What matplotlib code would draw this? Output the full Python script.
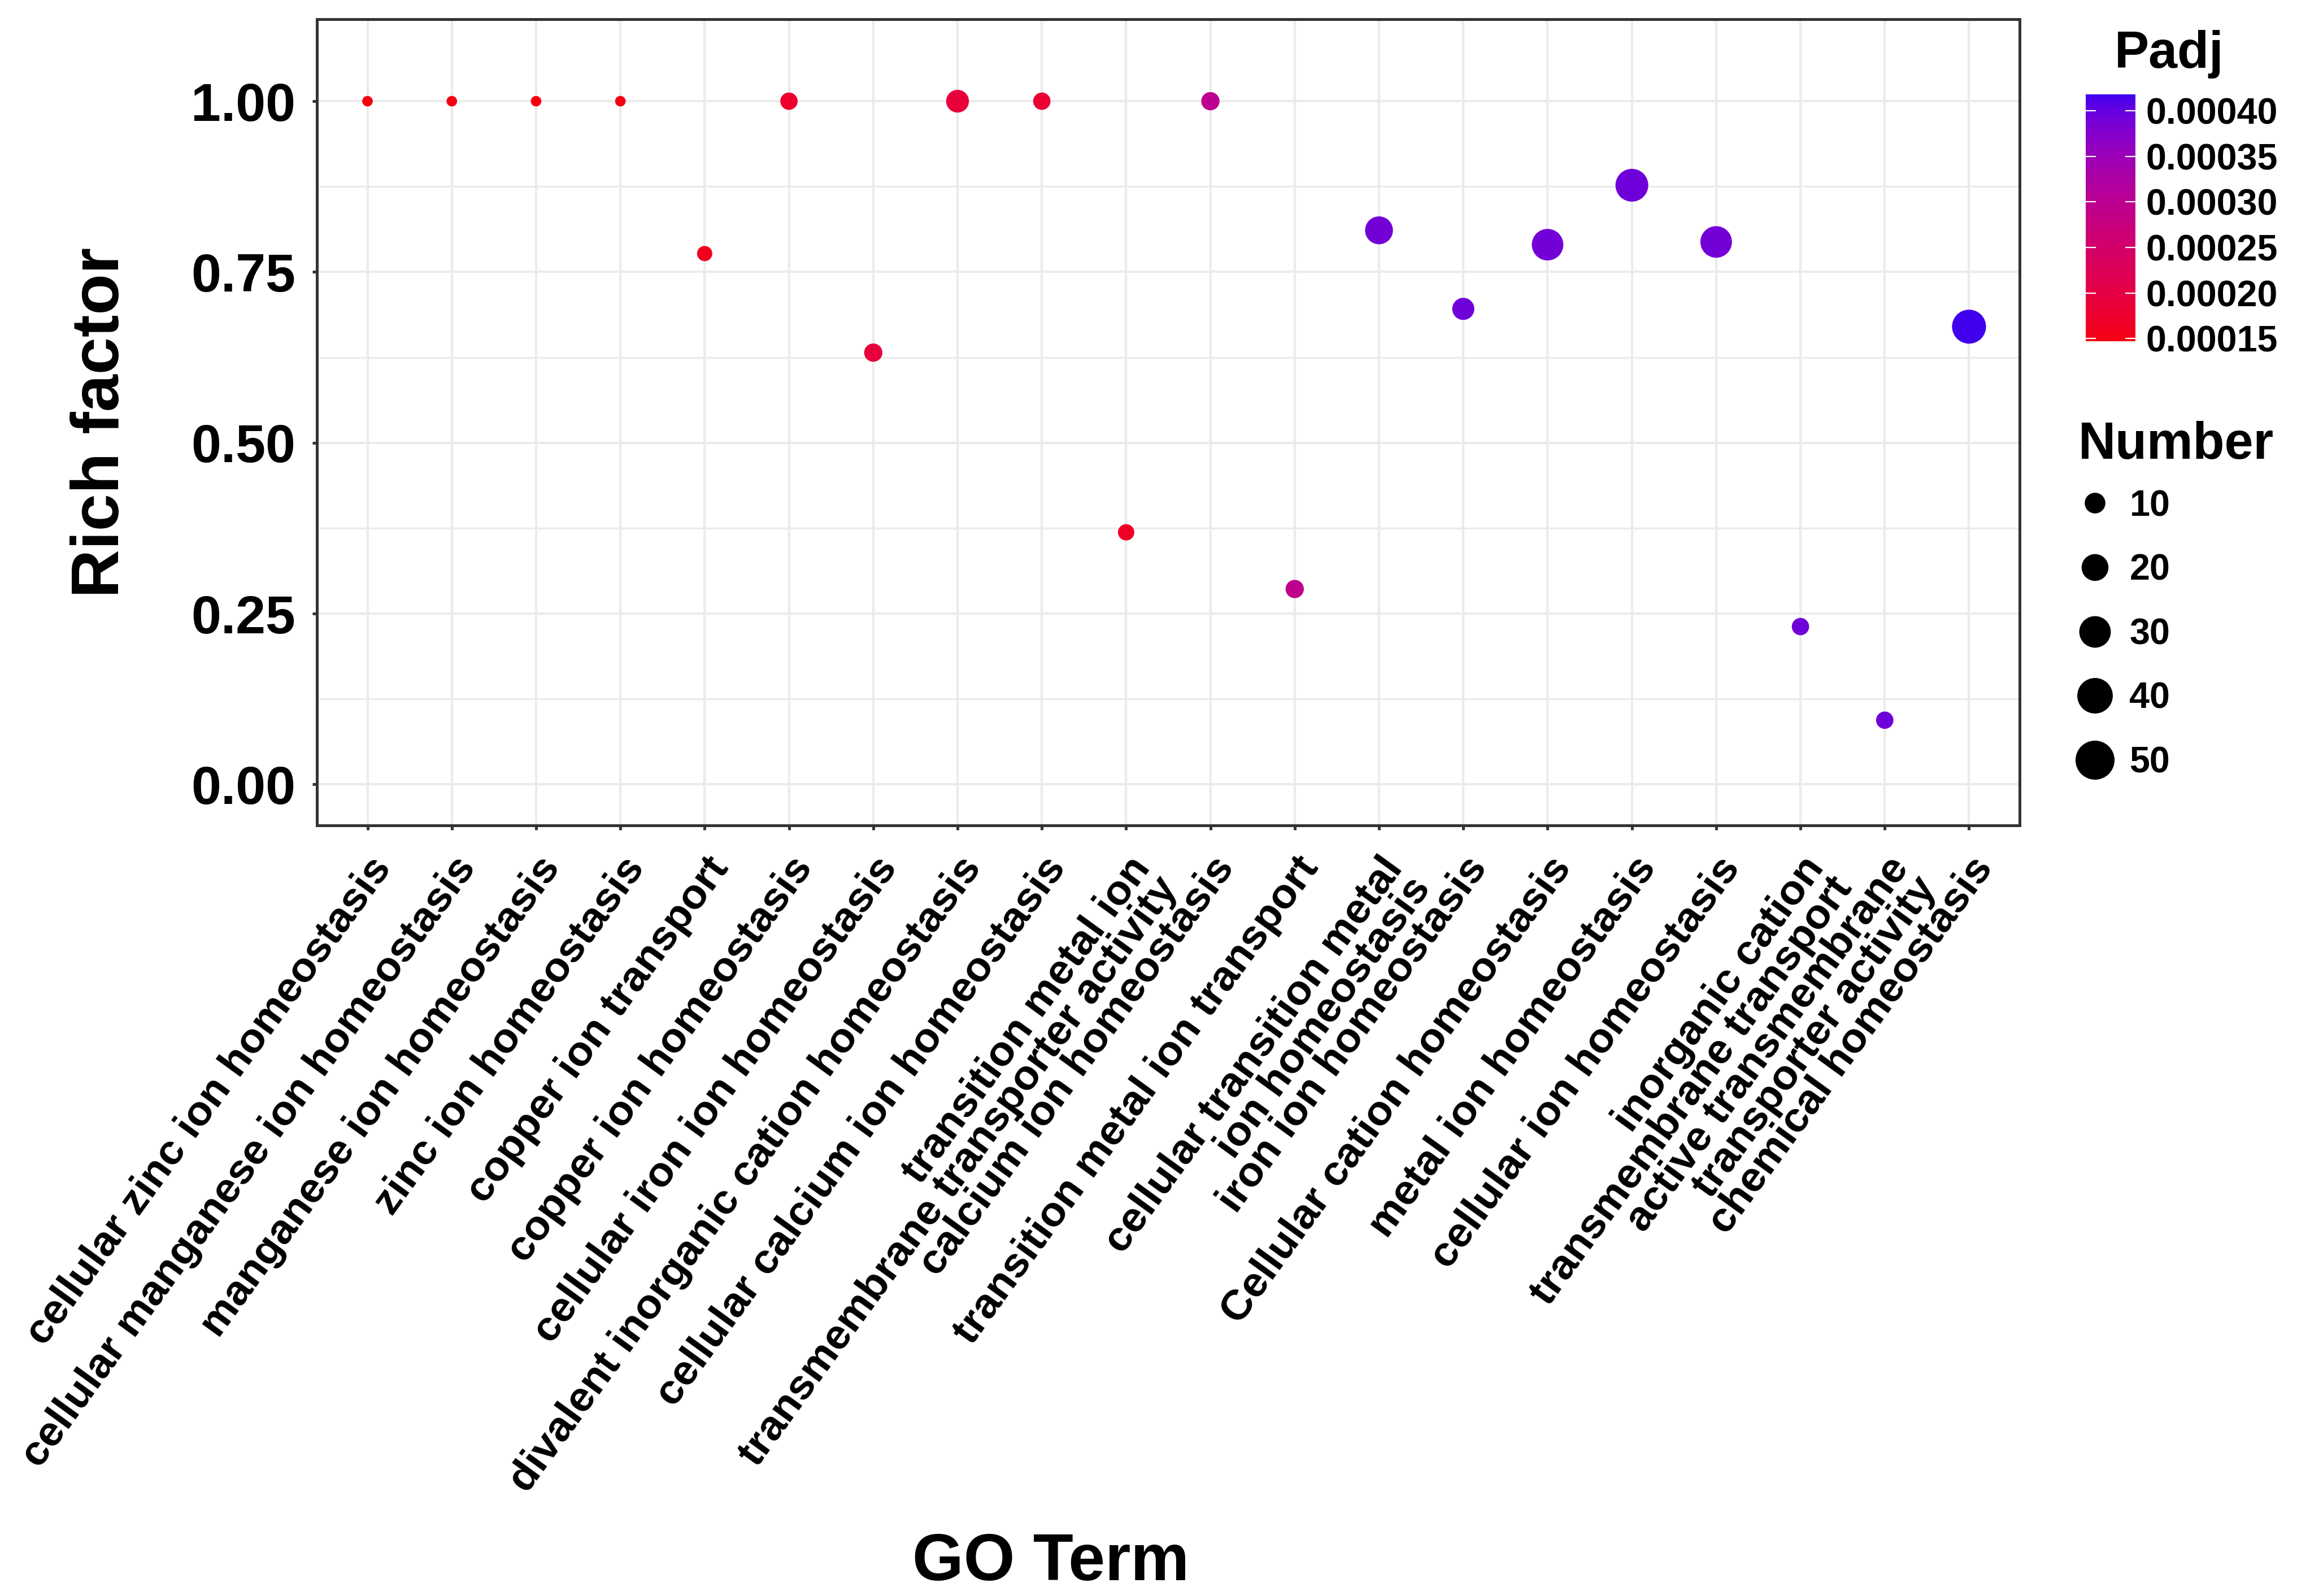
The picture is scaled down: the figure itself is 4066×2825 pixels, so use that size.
import numpy as np
import matplotlib
matplotlib.use("Agg")
import matplotlib.pyplot as plt
from matplotlib.colors import ListedColormap, Normalize
from matplotlib.cm import ScalarMappable
from matplotlib.lines import Line2D
from matplotlib.ticker import MultipleLocator

# ---------------- data ----------------
go_terms = [
    "cellular zinc ion homeostasis",
    "cellular manganese ion homeostasis",
    "manganese ion homeostasis",
    "zinc ion homeostasis",
    "copper ion transport",
    "copper ion homeostasis",
    "cellular iron ion homeostasis",
    "divalent inorganic cation homeostasis",
    "cellular calcium ion homeostasis",
    "transition metal ion\ntransmembrane transporter activity",
    "calcium ion homeostasis",
    "transition metal ion transport",
    "cellular transition metal\nion homeostasis",
    "iron ion homeostasis",
    "Cellular cation homeostasis",
    "metal ion homeostasis",
    "cellular ion homeostasis",
    "inorganic cation\ntransmembrane transport",
    "active transmembrane\ntransporter activity",
    "chemical homeostasis",
]
rich_factor = [1.00, 1.00, 1.00, 1.00, 0.777, 1.00, 0.632, 1.00, 1.00, 0.369,
               1.00, 0.286, 0.811, 0.696, 0.790, 0.877, 0.794, 0.231, 0.094, 0.670]
number = [1, 1, 1, 1, 4, 6, 7, 13, 6, 5,
          7, 7, 22, 12, 30, 33, 30, 6, 6, 36]
padj = [0.000147, 0.000148, 0.000148, 0.000148, 0.000160, 0.000175, 0.000190,
        0.000190, 0.000180, 0.000168, 0.000298, 0.000295, 0.000390, 0.000392,
        0.000390, 0.000392, 0.000390, 0.000392, 0.000392, 0.000418]

y_ticks = [0.00, 0.25, 0.50, 0.75, 1.00]
size_breaks = [10, 20, 30, 40, 50]
padj_breaks = [0.00015, 0.00020, 0.00025, 0.00030, 0.00035, 0.00040]

# ---------------- helpers ----------------
DPI = 300
PX = 72.0 / DPI  # points per pixel


def hex_rgb(h):
    h = h.lstrip("#")
    return np.array([int(h[i:i + 2], 16) / 255.0 for i in (0, 2, 4)])


def rgb_to_lab(rgb):
    c = np.where(rgb <= 0.04045, rgb / 12.92, ((rgb + 0.055) / 1.055) ** 2.4)
    M = np.array([[0.4124, 0.3576, 0.1805], [0.2126, 0.7152, 0.0722], [0.0193, 0.1192, 0.9505]])
    xyz = M @ c / np.array([0.95047, 1.0, 1.08883])
    d = 6 / 29
    f = np.where(xyz > d ** 3, np.cbrt(xyz), xyz / (3 * d * d) + 4 / 29)
    return np.array([116 * f[1] - 16, 500 * (f[0] - f[1]), 200 * (f[1] - f[2])])


def lab_to_rgb(lab):
    L, a, b = lab
    fy = (L + 16) / 116
    fx = fy + a / 500
    fz = fy - b / 200
    d = 6 / 29
    f = np.array([fx, fy, fz])
    xyz = np.where(f > d, f ** 3, 3 * d * d * (f - 4 / 29)) * np.array([0.95047, 1.0, 1.08883])
    Minv = np.array([[3.2406, -1.5372, -0.4986], [-0.9689, 1.8758, 0.0415], [0.0557, -0.2040, 1.0570]])
    c = np.clip(Minv @ xyz, 0, 1)
    s = np.where(c <= 0.0031308, 12.92 * c, 1.055 * c ** (1 / 2.4) - 0.055)
    return np.clip(s, 0, 1)


def lab_gradient(low, high, n=256):
    l0, l1 = rgb_to_lab(hex_rgb(low)), rgb_to_lab(hex_rgb(high))
    return ListedColormap([lab_to_rgb(l0 + (l1 - l0) * t) for t in np.linspace(0, 1, n)])


def size_px(n):
    # marker diameter in pixels for a gene count
    return 10.34 + 8.31 * np.sqrt(np.asarray(n, dtype=float))


cmap = lab_gradient("#F5000F", "#4000EE")
norm = Normalize(vmin=min(padj), vmax=max(padj))

plt.rcParams["font.family"] = ["Liberation Sans", "DejaVu Sans"]
plt.rcParams["font.weight"] = "bold"

W, H = 4066, 2825
fig = plt.figure(figsize=(W / DPI, H / DPI), dpi=DPI)
L, R, T, B = 561, 3575, 34, 1461
ax = fig.add_axes([L / W, 1 - B / H, (R - L) / W, (B - T) / H])

x = np.arange(1, len(go_terms) + 1)
ax.scatter(x, rich_factor, s=(size_px(number) * PX) ** 2, c=padj, cmap=cmap, norm=norm,
           linewidths=0, zorder=3)

ax.set_xlim(0.4, len(go_terms) + 0.6)
ax.set_ylim(-0.06, 1.12)
ax.set_xticks(x)
ax.set_xticklabels(go_terms, rotation=54, ha="right", va="top", rotation_mode="anchor",
                   multialignment="right", linespacing=0.85, fontsize=18.1, fontweight="bold")
ax.set_yticks(y_ticks)
ax.set_yticklabels([f"{v:.2f}" for v in y_ticks], fontsize=22.8, fontweight="bold")
ax.yaxis.set_minor_locator(MultipleLocator(0.125))

ax.set_axisbelow(True)
ax.grid(which="major", color="#EBEBEB", lw=1.0)
ax.grid(which="minor", axis="y", color="#EBEBEB", lw=0.8)
for sp in ax.spines.values():
    sp.set_color("#333333")
    sp.set_linewidth(5 * PX)
ax.tick_params(axis="both", which="major", length=8 * PX, width=5 * PX, color="#333333",
               labelcolor="black")
ax.tick_params(axis="y", which="major", pad=7.2)
ax.tick_params(axis="x", which="major", pad=8.5)
ax.tick_params(axis="y", which="minor", length=0)

ax.set_ylabel("Rich factor", fontsize=28.5, fontweight="bold")
ax.yaxis.set_label_coords(-0.108, 0.5)
ax.set_xlabel("GO Term", fontsize=28, fontweight="bold")
ax.xaxis.label.set_va("baseline")
ax.xaxis.set_label_coords((1860 - L) / (R - L), (B - 2797) / (B - T))

# ---------------- colour bar ----------------
cax = fig.add_axes([3692 / W, 1 - 604 / H, (3780 - 3692) / W, (604 - 167) / H])
cb = fig.colorbar(ScalarMappable(norm=norm, cmap=cmap), cax=cax)
cb.outline.set_visible(False)
cb.set_ticks(padj_breaks)
cb.set_ticklabels([f"{v:.5f}" for v in padj_breaks])
cax.tick_params(which="major", direction="in", left=True, right=True, length=18 * PX,
                width=2.2 * PX, color="white", labelcolor="black", labelsize=15.5, pad=4.5)
for lab in cax.get_yticklabels():
    lab.set_fontweight("bold")
cax.minorticks_off()
fig.text(3840 / W, 1 - 120 / H, "Padj", ha="center", va="baseline", fontsize=22, fontweight="bold")

# ---------------- size legend ----------------
fig.text(3679 / W, 1 - 812 / H, "Number", ha="left", va="baseline", fontsize=22, fontweight="bold")
handles = [Line2D([], [], ls="", marker="o", color="black", markeredgewidth=0,
                  markersize=float(size_px(v)) * PX) for v in size_breaks]
leg = fig.legend(handles, [str(v) for v in size_breaks],
                 loc="upper left", bbox_to_anchor=(3679 / W, 1 - 866 / H),
                 frameon=False, borderpad=0, borderaxespad=0,
                 handlelength=0.9, handletextpad=0.5, labelspacing=0.83,
                 prop={"size": 15.5, "weight": "bold"})

fig.savefig("out.png", dpi=DPI, facecolor="white")
